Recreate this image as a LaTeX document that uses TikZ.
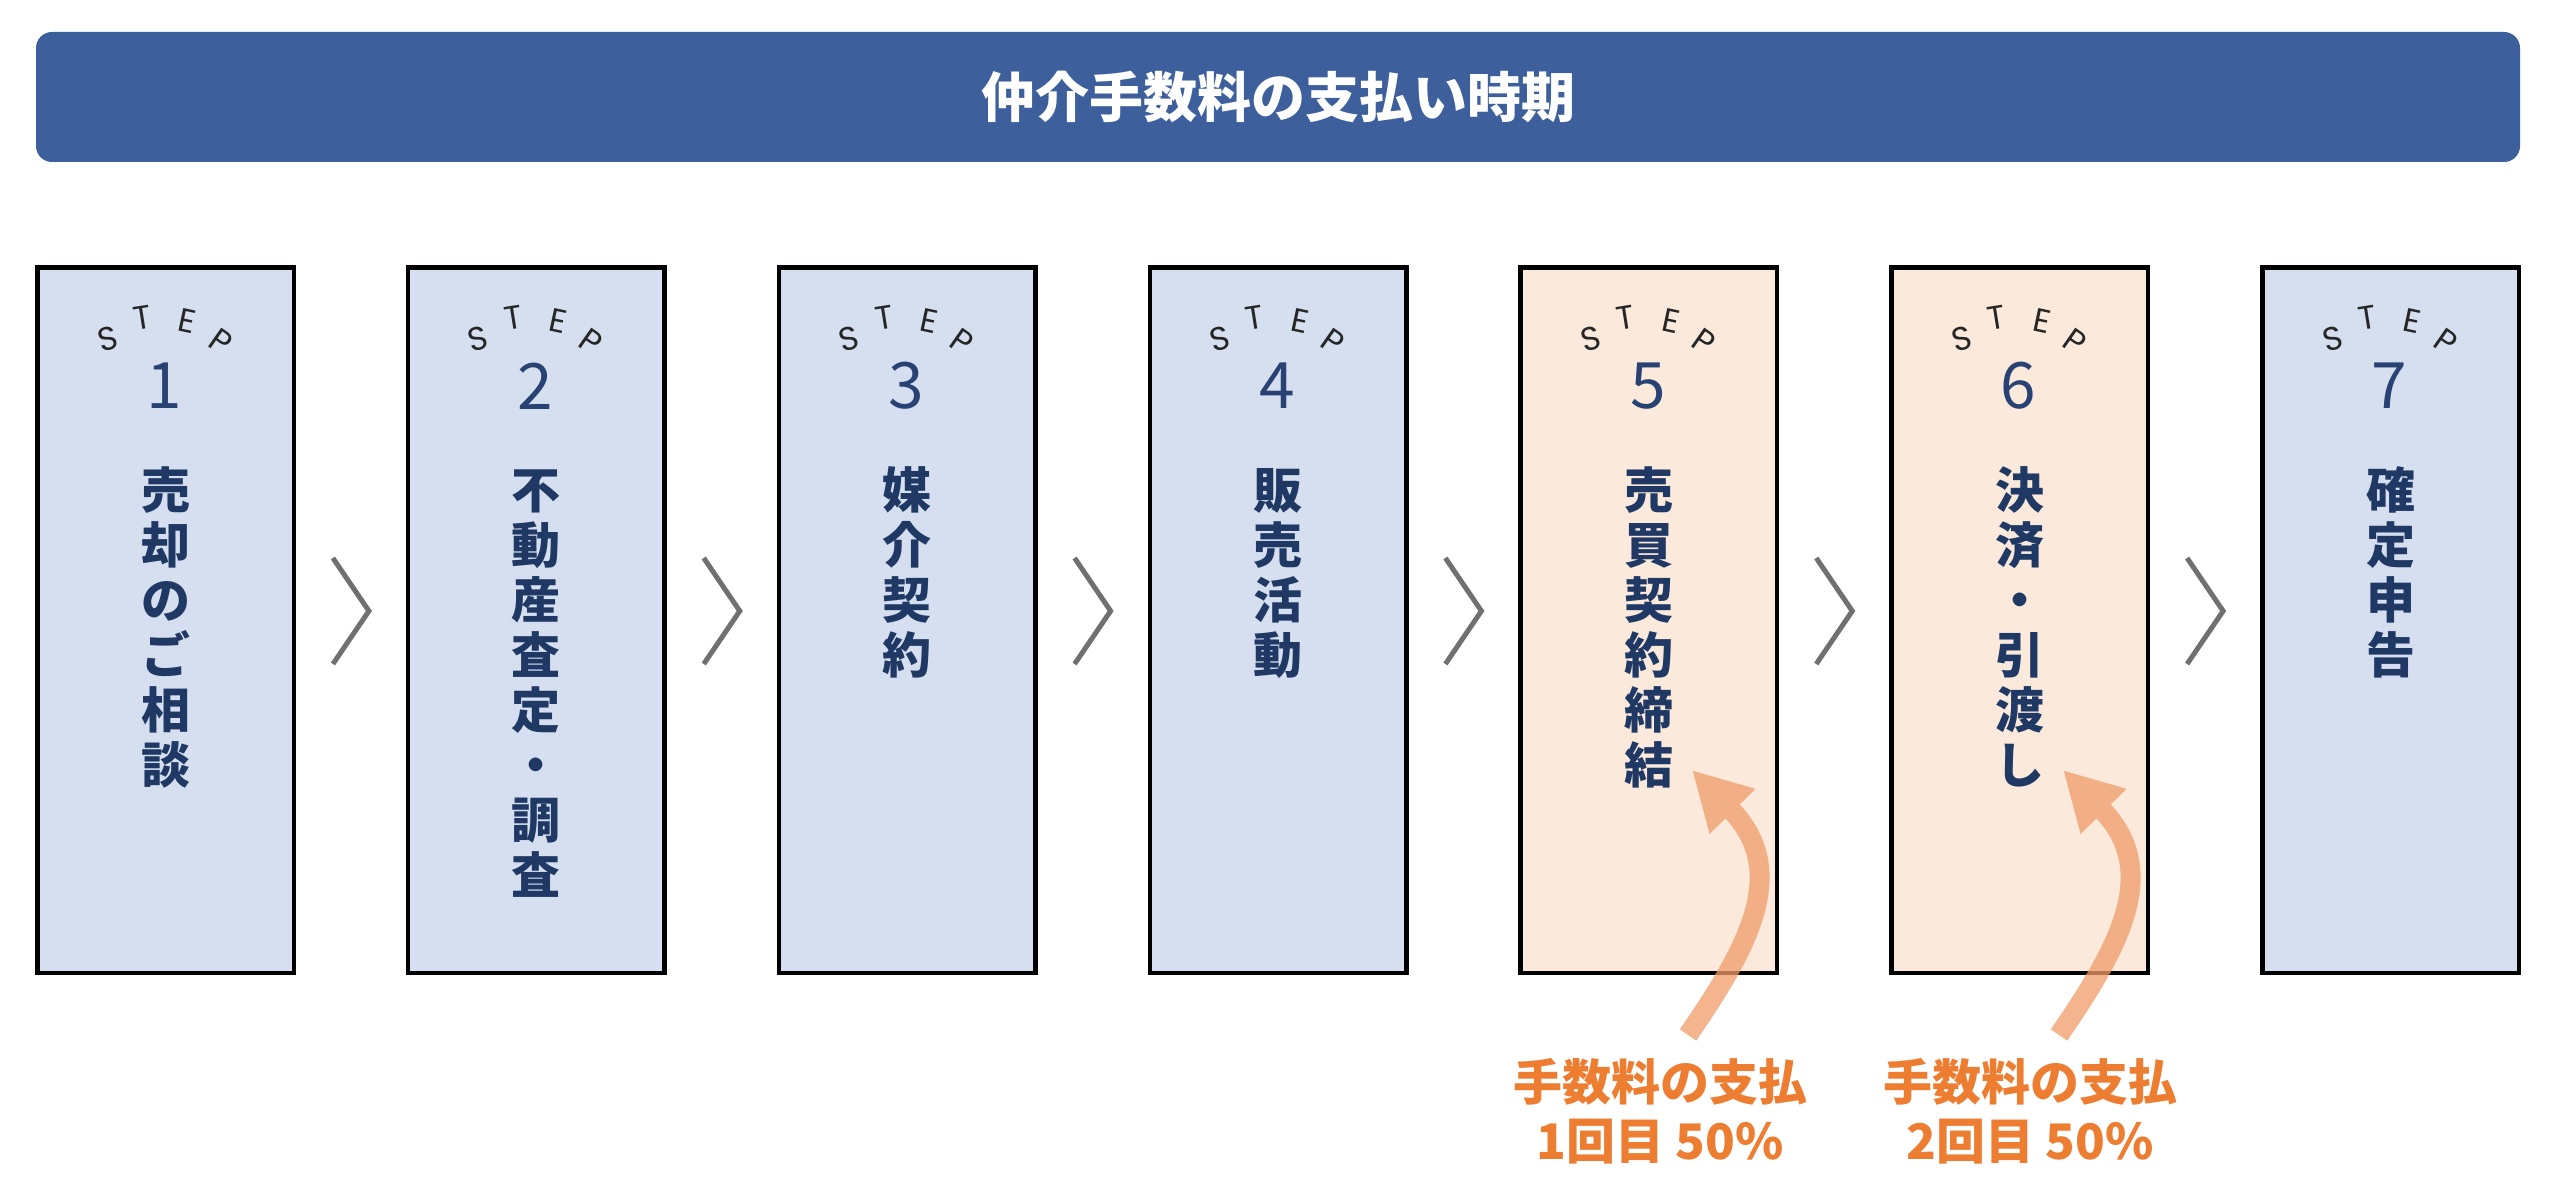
\documentclass[tikz,border=0pt]{standalone}
\usepackage{fontspec}
\setmainfont{Noto Sans CJK JP}
\newfontfamily\stepfont{Poppins}
\usetikzlibrary{arrows.meta,calc}
\definecolor{titleblue}{RGB}{61,95,156}
\definecolor{bluefill}{RGB}{213,223,240}
\definecolor{orangefill}{RGB}{251,234,220}
\definecolor{navy}{RGB}{31,56,100}
\definecolor{numblue}{RGB}{40,66,115}
\definecolor{orangetext}{RGB}{237,125,49}
\definecolor{arroworange}{RGB}{240,155,105}
\definecolor{chevgray}{RGB}{112,112,112}
\tikzset{
  stepbox/.style={draw=black, line width=4.5pt, minimum width=256.5pt, minimum height=705.5pt, inner sep=0pt},
  bluebox/.style={stepbox, fill=bluefill},
  orangebox/.style={stepbox, fill=orangefill},
  vchar/.style={font=\fontsize{49}{55}\selectfont\bfseries, text=navy, inner sep=0pt, anchor=base},
  stepletter/.style={font=\stepfont\fontsize{33}{33}\selectfont, text=black!85, inner sep=0pt},
  stepnum/.style={font=\fontsize{64}{64}\selectfont, text=numblue, inner sep=0pt},
  chev/.style={draw=chevgray, line width=5pt, line join=miter},
  feearrow/.style={draw=arroworange, line width=20pt, -{Triangle[length=58pt,width=60pt]}},
  feelabel/.style={font=\fontsize{49}{59}\selectfont\bfseries, text=orangetext, align=center, inner sep=0pt},
  titlebar/.style={fill=titleblue, rounded corners=16pt, minimum width=2484pt, minimum height=130pt, inner sep=0pt, text=white, font=\fontsize{54}{54}\selectfont\bfseries},
}
\newcommand\stepmark[3]{%
  \node[stepletter, rotate=15] (#1S) at ({#2-58},339) {S};
  \node[stepletter, rotate=9] (#1T) at ({#2-23},318) {T};
  \node[stepletter, rotate=-12] (#1E) at ({#2+22},321) {E};
  \node[stepletter, rotate=-35] (#1P) at ({#2+55},341.5) {P};
  \node[stepnum] (#1N) at ({#2-1},386) {#3};
}
\newcommand\vlabel[3]{%
  \foreach \c [count=\k] in {#3} {\node[vchar] (#1c\k) at ({#2},{508+55*(\k-1)}) {\c};}
}
\begin{document}
\begin{tikzpicture}[x=1pt,y=-1pt]
\useasboundingbox (0,0) rectangle (2560,1201);
\fill[white] (0,0) rectangle (2560,1201);
\node[titlebar] (title) at (1278,97) {仲介手数料の支払い時期};

\node[bluebox] (b1) at (165.5,620) {};
\node[bluebox] (b2) at (536.3,620) {};
\node[bluebox] (b3) at (907.2,620) {};
\node[bluebox] (b4) at (1278,620) {};
\node[orangebox] (b5) at (1648.8,620) {};
\node[orangebox] (b6) at (2019.7,620) {};
\node[bluebox] (b7) at (2390.5,620) {};

\stepmark{s1}{165.5}{1}
\stepmark{s2}{536.3}{2}
\stepmark{s3}{907.2}{3}
\stepmark{s4}{1278}{4}
\stepmark{s5}{1648.8}{5}
\stepmark{s6}{2019.7}{6}
\stepmark{s7}{2390.5}{7}

\vlabel{l1}{165.5}{売,却,の,ご,相,談}
\vlabel{l2}{536.3}{不,動,産,査,定,・,調,査}
\vlabel{l3}{907.2}{媒,介,契,約}
\vlabel{l4}{1278}{販,売,活,動}
\vlabel{l5}{1648.8}{売,買,契,約,締,結}
\vlabel{l6}{2019.7}{決,済,・,引,渡,し}
\vlabel{l7}{2390.5}{確,定,申,告}

\foreach \a/\b in {1/2,2/3,3/4,4/5,5/6,6/7} {
  \coordinate (g\a) at ($(b\a.east)!0.5!(b\b.west)+(0,-9)$);
  \draw[chev] ($(g\a)+(-18,-53)$) -- ($(g\a)+(18,0)$) -- ($(g\a)+(-18,53)$);
}

\node[feelabel] (f1) at (1660,1111) {手数料の支払\\1回目 50\%};
\node[feelabel] (f2) at (2030,1111) {手数料の支払\\2回目 50\%};

\coordinate (a1t) at (1688,1035);
\coordinate (a1h) at (1692,770);
\coordinate (a2t) at (2059,1035);
\coordinate (a2h) at (2063,770);
\begin{scope}[transparency group, opacity=0.75]
\draw[feearrow] (a1t) .. controls (1750,945) and (1790,870) .. (a1h);
\end{scope}
\begin{scope}[transparency group, opacity=0.75]
\draw[feearrow] (a2t) .. controls (2121,945) and (2161,870) .. (a2h);
\end{scope}
\end{tikzpicture}
\end{document}
